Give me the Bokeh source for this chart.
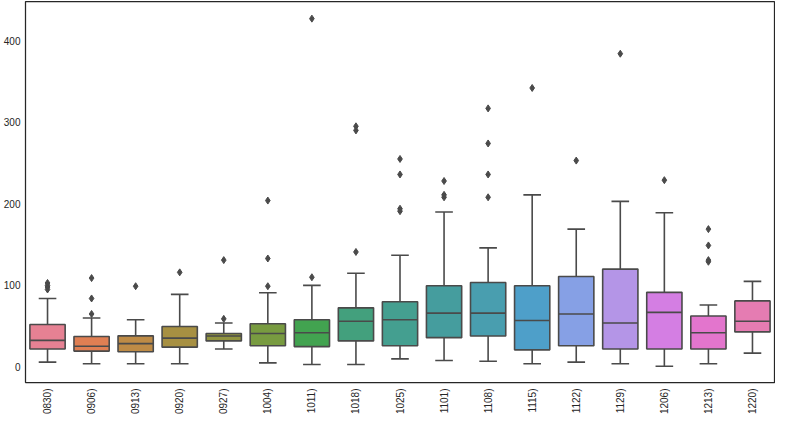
import math
import colorsys
from bokeh.plotting import figure
from bokeh.models import FixedTicker, ColumnDataSource
from bokeh.embed import file_html
from bokeh.resources import INLINE

# ---------------- data ----------------
categories = ["0830)", "0906)", "0913)", "0920)", "0927)", "1004)", "1011)", "1018)", "1025)",
              "1101)", "1108)", "1115)", "1122)", "1129)", "1206)", "1213)", "1220)"]
whisker_low = [6, 4, 4, 4, 22, 5, 3, 3, 10, 8, 7, 4, 6, 4, 1, 4, 17]
q1 = [22, 19.5, 18.7, 24.3, 32, 26, 25, 32, 26, 36, 38, 21, 26, 22, 22, 22, 43]
median = [32.6, 25.4, 28.7, 35.4, 38, 41, 42, 56, 58, 66, 66, 57, 65, 54, 67, 42, 56]
q3 = [52, 37.4, 38.2, 49.7, 41, 53, 58, 72.5, 80, 99.5, 103.5, 99.5, 111, 120, 91.5, 62.5, 81]
whisker_high = [84, 60, 58, 89, 54, 91, 100, 115, 137, 190, 146, 211, 169, 203, 189, 76, 105]
outliers = [
    [95, 98, 100, 103],
    [65, 84, 109],
    [99],
    [116],
    [59, 131],
    [99, 133, 204],
    [110, 427],
    [141, 290, 295],
    [191, 194, 236, 255],
    [208, 211, 228],
    [208, 236, 274, 317],
    [342],
    [253],
    [384],
    [229],
    [129, 131, 149, 169],
    [],
]

# ---------------- seaborn-like husl palette ----------------
_m = [[3.2406, -1.5372, -0.4986],
      [-0.9689, 1.8758, 0.0415],
      [0.0557, -0.2040, 1.0570]]
_refU, _refV = 0.19784, 0.46834
_lab_e, _lab_k = 0.008856, 903.3


def _max_chroma(L, H):
    hrad = math.radians(H)
    sinH, cosH = math.sin(hrad), math.cos(hrad)
    sub1 = ((L + 16.0) ** 3.0) / 1560896.0
    sub2 = sub1 if sub1 > _lab_e else L / _lab_k
    result = float("inf")
    for m1, m2, m3 in _m:
        top = (0.99915 * m1 + 1.05122 * m2 + 1.14460 * m3) * sub2
        rbottom = (0.86330 * m3 - 0.17266 * m2)
        lbottom = (0.12949 * m3 - 0.38848 * m1)
        bottom = (rbottom * sinH + lbottom * cosH) * sub2
        for t in (0.0, 1.0):
            C = L * (top - 1.05122 * t) / (bottom + 0.17266 * sinH * t)
            if 0.0 < C < result:
                result = C
    return result


def _f_inv(t):
    return t ** 3 if t ** 3 > _lab_e else (116.0 * t - 16.0) / _lab_k


def _from_linear(c):
    return 12.92 * c if c <= 0.0031308 else 1.055 * c ** (1 / 2.4) - 0.055


def husl_to_rgb(H, S, L):
    C = _max_chroma(L, H) / 100.0 * S
    hrad = math.radians(H)
    U, V = math.cos(hrad) * C, math.sin(hrad) * C
    Y = _f_inv((L + 16.0) / 116.0)
    varU = U / (13.0 * L) + _refU
    varV = V / (13.0 * L) + _refV
    X = -(9.0 * Y * varU) / ((varU - 4.0) * varV - varU * varV)
    Z = (9.0 * Y - 15.0 * varV * Y - varV * X) / (3.0 * varV)
    rgb = [_from_linear(r[0] * X + r[1] * Y + r[2] * Z) for r in _m]
    return [min(max(c, 0.0), 1.0) for c in rgb]


def palette(n, h=0.01, s=0.9, l=0.65, sat=0.75):
    cols = []
    for i in range(n):
        hue = ((i / n + h) % 1) * 359
        r, g, b = husl_to_rgb(hue, s * 99, l * 99)
        hh, ll, ss = colorsys.rgb_to_hls(r, g, b)
        r, g, b = colorsys.hls_to_rgb(hh, ll, ss * sat)
        cols.append("#%02x%02x%02x" % (round(r * 255), round(g * 255), round(b * 255)))
    return cols


colors = palette(len(categories))
xs = list(range(len(categories)))

line_color = "#4a4a4a"
text_color = "#262626"

box_src = ColumnDataSource(dict(x=xs, q1=q1, q3=q3, med=median, lo=whisker_low, hi=whisker_high,
                                color=colors,
                                xl=[x - 0.4 for x in xs], xr=[x + 0.4 for x in xs],
                                cl=[x - 0.2 for x in xs], cr=[x + 0.2 for x in xs]))

ox, oy = [], []
for i, vals in enumerate(outliers):
    for v in vals:
        ox.append(i)
        oy.append(v)

p = figure(width=775, height=417, output_backend="svg", toolbar_location=None,
           x_range=(-0.5, len(categories) - 0.5), y_range=(-19, 448),
           min_border_left=18, min_border_right=1, min_border_top=1, min_border_bottom=0)

# whiskers
p.segment(x0="x", y0="q3", x1="x", y1="hi", source=box_src, line_color=line_color, line_width=1.6)
p.segment(x0="x", y0="lo", x1="x", y1="q1", source=box_src, line_color=line_color, line_width=1.6)
# caps
p.segment(x0="cl", y0="hi", x1="cr", y1="hi", source=box_src, line_color=line_color, line_width=1.6)
p.segment(x0="cl", y0="lo", x1="cr", y1="lo", source=box_src, line_color=line_color, line_width=1.6)
# boxes
p.vbar(x="x", bottom="q1", top="q3", width=0.8, source=box_src, fill_color="color",
       line_color=line_color, line_width=1.6)
# medians
p.segment(x0="xl", y0="med", x1="xr", y1="med", source=box_src, line_color=line_color, line_width=1.6)
# outliers
p.scatter(ox, oy, marker="diamond", size=7, fill_color=line_color, line_color=line_color)

p.grid.visible = False
p.outline_line_color = "#262626"
p.outline_line_width = 1.25
p.background_fill_color = "white"

p.xaxis.ticker = FixedTicker(ticks=xs)
p.xaxis.major_label_overrides = {i: c for i, c in enumerate(categories)}
p.xaxis.major_label_orientation = math.pi / 2
p.yaxis.ticker = FixedTicker(ticks=[0, 100, 200, 300, 400])

for ax in (p.xaxis, p.yaxis):
    ax.axis_line_color = None
    ax.major_tick_line_color = None
    ax.minor_tick_line_color = None
    ax.major_tick_out = 0
    ax.major_tick_in = 0
    ax.major_label_text_font = "Liberation Sans"
    ax.major_label_text_font_size = "10px"
    ax.major_label_text_color = text_color
p.yaxis.major_label_standoff = 5
p.xaxis.major_label_standoff = 6

open("out.html", "w").write(file_html(p, INLINE))
